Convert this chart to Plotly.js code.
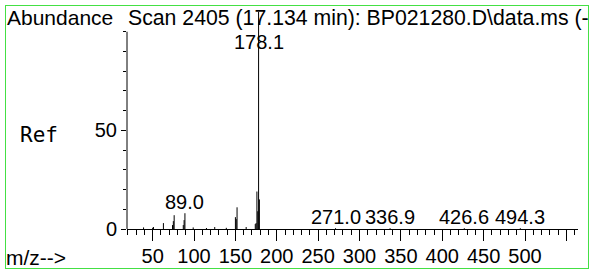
<!DOCTYPE html>
<html>
<head>
<meta charset="utf-8">
<script src="https://cdn.plot.ly/plotly-3.0.1.min.js"></script>
<style>
  html, body { margin: 0; padding: 0; background: #fff; }
  #wrap { position: relative; width: 589px; height: 270px; overflow: hidden; }
  #chart { position: absolute; left: 0; top: 0; width: 589px; height: 270px; }
  #frame { position: absolute; left: 5px; top: 5px; width: 584px; height: 264px;
           box-sizing: border-box; border: 1px solid #44e044; pointer-events: none; }
</style>
</head>
<body>
<div id="wrap"><div id="chart"></div><div id="frame"></div></div>
<script>
// ---- data ----
const mz    = [39, 50, 51, 63, 74, 75, 76, 87, 88, 89, 99, 115, 125, 139, 150, 151, 152, 163, 174, 175, 176, 177, 178, 179, 271.0, 336.9, 426.6, 494.3];
const abund = [0.8, 0.6, 1.0, 3.0, 2.0, 4.0, 7.0, 2.0, 4.5, 8.0, 0.8, 0.5, 1.0, 0.6, 6.0, 5.0, 11.0, 1.0, 2.5, 3.0, 19.0, 9.0, 110.0, 15.0, 0.4, 0.4, 0.4, 0.4];
const peakLabels = ['89.0', '178.1', '271.0', '336.9', '426.6', '494.3'];
const xTickVals = [50, 100, 150, 200, 250, 300, 350, 400, 450, 500, 550];
const xTickText = ['50', '100', '150', '200', '250', '300', '350', '400', '450', '500', ''];
const yTickVals = [0, 50];
const yTickText = ['0', '50'];
const yMinorVals = [10, 20, 30, 40, 60, 70, 80, 90, 100];
const headerLeft = 'Abundance';
const headerTitle = 'Scan 2405 (17.134 min): BP021280.D\\data.ms (-)';
const refLabel = 'Ref';
const xLabel = 'm/z-->';

// ---- layout geometry ----
const W = 589, H = 270;
const M = {l: 127, r: 11, t: 12, b: 41};
const pw = W - M.l - M.r, ph = H - M.t - M.b;
const px2x = p => (p - M.l) / pw;
const py2y = p => (H - M.b - p) / ph;

// sticks
const sx = [], sy = [];
mz.forEach((m, i) => { sx.push(m, m, null); sy.push(0, abund[i], null); });

function nearestAbund(v) {
  let best = 0, bd = 1e9;
  mz.forEach((m, i) => { const d = Math.abs(m - v); if (d < bd) { bd = d; best = abund[i]; } });
  return best;
}

const font = '"Liberation Sans", Arial, sans-serif';
const annotations = peakLabels.map(t => {
  const v = parseFloat(t);
  return {
    x: v, y: Math.min(nearestAbund(v) + 5.5, 95), xref: 'x', yref: 'y',
    text: t, showarrow: false, xanchor: 'center', yanchor: 'middle',
    font: {family: font, size: 20, color: '#000'}
  };
});
annotations.push(
  {x: px2x(5), y: py2y(4), xref: 'paper', yref: 'paper', xanchor: 'left', yanchor: 'top',
   text: headerLeft, showarrow: false, font: {family: font, size: 21, color: '#000'}},
  {x: px2x(126), y: py2y(4), xref: 'paper', yref: 'paper', xanchor: 'left', yanchor: 'top',
   text: headerTitle, showarrow: false, font: {family: font, size: 21.25, color: '#000'}},
  {x: px2x(18), y: py2y(121), xref: 'paper', yref: 'paper', xanchor: 'left', yanchor: 'top',
   text: refLabel, showarrow: false, font: {family: '"DejaVu Sans Mono", monospace', size: 21, color: '#000'}},
  {x: px2x(4), y: py2y(244), xref: 'paper', yref: 'paper', xanchor: 'left', yanchor: 'top',
   text: xLabel, showarrow: false, font: {family: font, size: 21, color: '#000'}}
);

const data = [{
  type: 'scatter', mode: 'lines', x: sx, y: sy,
  line: {color: '#000', width: 1}, hoverinfo: 'skip', connectgaps: false
}];

const layout = {
  width: W, height: H, margin: M,
  paper_bgcolor: '#fff', plot_bgcolor: '#fff', showlegend: false,
  font: {family: font, size: 20, color: '#000'},
  xaxis: {
    range: [19, 564], showgrid: false, zeroline: false,
    showline: true, linecolor: '#000', linewidth: 1,
    tickmode: 'array', tickvals: xTickVals, ticktext: xTickText,
    ticks: 'outside', ticklen: 11, tickwidth: 1, tickcolor: '#000',
    ticklabelstandoff: -2,
    tickfont: {family: font, size: 20, color: '#000'},
    minor: {dtick: 10, tick0: 0, ticks: 'outside', ticklen: 5, tickwidth: 1, tickcolor: '#000', showgrid: false}
  },
  yaxis: {
    range: [0, 110], showgrid: false, zeroline: false, showline: false,
    tickmode: 'array', tickvals: yTickVals, ticktext: yTickText,
    ticks: 'outside', ticklen: 5, tickwidth: 1, tickcolor: '#000',
    tickfont: {family: font, size: 20, color: '#000'},
    minor: {tickmode: 'array', tickvals: yMinorVals, ticks: 'outside', ticklen: 3, tickwidth: 1, tickcolor: '#000', showgrid: false}
  },
  shapes: [{type: 'line', xref: 'paper', yref: 'y', x0: 0, x1: 0, y0: 0, y1: 100,
            line: {color: '#000', width: 1}}],
  annotations: annotations
};

Plotly.newPlot('chart', data, layout, {staticPlot: true, displayModeBar: false});
</script>
</body>
</html>
